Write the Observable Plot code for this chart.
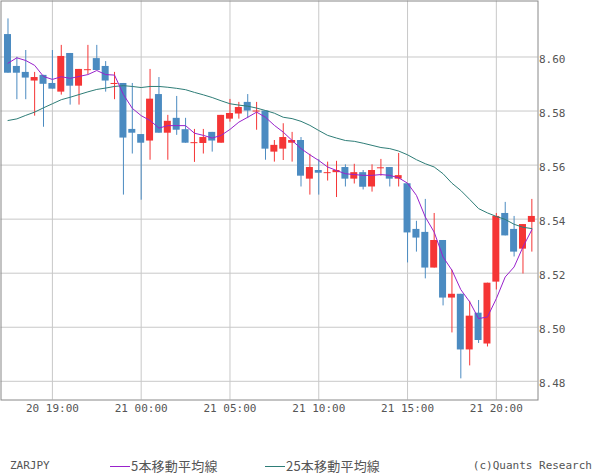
<!DOCTYPE html>
<html>
<head>
<meta charset="utf-8">
<script src="https://cdn.jsdelivr.net/npm/d3@7"></script>
<script src="https://cdn.jsdelivr.net/npm/@observablehq/plot@0.6"></script>
<style>
  body { margin: 0; background: #fff; }
  #legend { position: relative; width: 600px; height: 45px; color: #555; }
  #legend span { position: absolute; top: 29px; height: 14px; line-height: 14px; white-space: nowrap; }
  .mono { font-family: "DejaVu Sans Mono", monospace; font-size: 11px; }
  .jp { font-family: "Noto Sans CJK JP", sans-serif; font-size: 13px; letter-spacing: 0.2px; }
  .swatch { position: absolute; top: 36px; height: 1px; width: 20px; }
</style>
</head>
<body>
<div id="chart"></div>
<div id="legend">
  <span class="mono" style="left:10px">ZARJPY</span>
  <div class="swatch" style="left:110px;background:#9922cc"></div>
  <span class="jp" style="left:131px">5本移動平均線</span>
  <div class="swatch" style="left:265px;background:#2e7d77"></div>
  <span class="jp" style="left:286px">25本移動平均線</span>
  <span class="mono" style="right:8px">(c)Quants Research</span>
</div>
<script>
const times = [
  "20 16:30","20 17:00","20 17:30","20 18:00","20 18:30","20 19:00","20 19:30","20 20:00","20 20:30","20 21:00",
  "20 21:30","20 22:00","20 22:30","20 23:00","20 23:30","21 00:00","21 00:30","21 01:00","21 01:30","21 02:00",
  "21 02:30","21 03:00","21 03:30","21 04:00","21 04:30","21 05:00","21 05:30","21 06:00","21 06:30","21 07:00",
  "21 07:30","21 08:00","21 08:30","21 09:00","21 09:30","21 10:00","21 10:30","21 11:00","21 11:30","21 12:00",
  "21 12:30","21 13:00","21 13:30","21 14:00","21 14:30","21 15:00","21 15:30","21 16:00","21 16:30","21 17:00",
  "21 17:30","21 18:00","21 18:30","21 19:00","21 19:30","21 20:00","21 20:30","21 21:00","21 21:30","21 22:00"
];
const open = [
  8.6083,8.5965,8.5943,8.5911,8.5932,8.5902,8.5870,8.6013,8.5892,8.5953,
  8.5994,8.5965,8.5902,8.5902,8.5732,8.5713,8.5689,8.5861,8.5718,8.5773,
  8.5731,8.5683,8.5680,8.5721,8.5681,8.5770,8.5789,8.5832,8.5800,8.5800,
  8.5648,8.5659,8.5681,8.5691,8.5548,8.5580,8.5572,8.5572,8.5591,8.5548,
  8.5572,8.5519,8.5590,8.5591,8.5548,8.5531,8.5362,8.5351,8.5219,8.5321,
  8.5108,8.5122,8.4916,8.5052,8.4938,8.5167,8.5421,8.5362,8.5289,8.5388
];
const high = [
  8.6141,8.5999,8.6024,8.5943,8.5932,8.6024,8.6043,8.6013,8.5954,8.6043,
  8.6043,8.5983,8.5943,8.5902,8.5902,8.5713,8.5954,8.5924,8.5784,8.5854,
  8.5773,8.5732,8.5732,8.5721,8.5784,8.5843,8.5832,8.5861,8.5832,8.5800,
  8.5691,8.5753,8.5721,8.5702,8.5640,8.5620,8.5611,8.5614,8.5601,8.5603,
  8.5580,8.5601,8.5621,8.5591,8.5643,8.5531,8.5392,8.5473,8.5421,8.5321,
  8.5211,8.5122,8.5096,8.5099,8.5163,8.5421,8.5462,8.5410,8.5380,8.5473
];
const low = [
  8.5940,8.5842,8.5842,8.5781,8.5740,8.5881,8.5859,8.5822,8.5822,8.5935,
  8.5950,8.5870,8.5842,8.5489,8.5641,8.5470,8.5618,8.5718,8.5618,8.5710,
  8.5681,8.5610,8.5641,8.5648,8.5681,8.5759,8.5770,8.5772,8.5729,8.5618,
  8.5611,8.5617,8.5611,8.5519,8.5489,8.5489,8.5541,8.5480,8.5519,8.5530,
  8.5508,8.5500,8.5559,8.5519,8.5519,8.5238,8.5278,8.5179,8.5219,8.5079,
  8.4979,8.4809,8.4857,8.4940,8.4927,8.5138,8.5338,8.5260,8.5197,8.5278
];
const close = [
  8.5940,8.5940,8.5922,8.5924,8.5899,8.5881,8.6002,8.5892,8.5954,8.5953,
  8.5950,8.5911,8.5902,8.5700,8.5718,8.5681,8.5844,8.5718,8.5762,8.5729,
  8.5681,8.5683,8.5702,8.5689,8.5784,8.5791,8.5813,8.5800,8.5800,8.5659,
  8.5673,8.5702,8.5691,8.5559,8.5591,8.5570,8.5572,8.5580,8.5548,8.5572,
  8.5518,8.5580,8.5590,8.5548,8.5561,8.5349,8.5330,8.5219,8.5321,8.5108,
  8.5122,8.4916,8.5041,8.4951,8.5163,8.5410,8.5338,8.5278,8.5380,8.5410
];
const ma5 = [
  8.5977,8.5997,8.5987,8.5969,8.5928,8.5917,8.5927,8.5921,8.5928,8.5935,
  8.5950,8.5935,8.5933,8.5861,8.5810,8.5783,8.5765,8.5737,8.5746,8.5746,
  8.5746,8.5718,8.5710,8.5700,8.5710,8.5732,8.5759,8.5777,8.5796,8.5777,
  8.5747,8.5722,8.5691,8.5661,8.5638,8.5617,8.5593,8.5580,8.5568,8.5565,
  8.5562,8.5562,8.5565,8.5562,8.5553,8.5533,8.5488,8.5408,8.5352,8.5260,
  8.5211,8.5139,8.5094,8.5032,8.5038,8.5106,8.5186,8.5223,8.5297,8.5361
];
const ma25 = [
  8.5765,8.5771,8.5784,8.5796,8.5812,8.5827,8.5842,8.5851,8.5861,8.5871,
  8.5880,8.5885,8.5891,8.5894,8.5891,8.5887,8.5891,8.5891,8.5888,8.5884,
  8.5879,8.5869,8.5860,8.5850,8.5838,8.5827,8.5822,8.5818,8.5811,8.5802,
  8.5792,8.5777,8.5772,8.5762,8.5747,8.5728,8.5710,8.5700,8.5691,8.5688,
  8.5681,8.5673,8.5665,8.5661,8.5652,8.5638,8.5620,8.5605,8.5593,8.5568,
  8.5533,8.5506,8.5473,8.5439,8.5423,8.5410,8.5399,8.5381,8.5370,8.5365
];
const xTicks = ["20 19:00","21 00:00","21 05:00","21 10:00","21 15:00","21 20:00"];
const yTicks = [8.48, 8.50, 8.52, 8.54, 8.56, 8.58, 8.60];

const UP = "#f53535", DOWN = "#4b8bc1";
const data = times.map((t, i) => ({t, o: open[i], h: high[i], l: low[i], c: close[i], m5: ma5[i], m25: ma25[i]}));
const col = d => (d.c >= d.o ? UP : DOWN);

const chart = Plot.plot({
  width: 600,
  height: 430,
  marginLeft: 0.5,
  marginTop: 0.5,
  marginRight: 62.5,
  marginBottom: 30.5,
  style: {fontFamily: "'DejaVu Sans Mono', monospace", fontSize: "11px", color: "#555", background: "#fff"},
  x: {type: "band", domain: times, paddingInner: 0, paddingOuter: 0.24, align: 0.6},
  y: {domain: [8.47308, 8.62072]},
  color: {type: "identity"},
  marks: [
    Plot.gridY(yTicks, {stroke: "#c8c8c8", strokeOpacity: 1}),
    Plot.ruleX(xTicks, {x: d => d, stroke: "#c8c8c8", strokeOpacity: 1}),
    Plot.ruleX(data, {x: "t", y1: "l", y2: "h", stroke: col}),
    Plot.barY(data, {x: "t", y1: "o", y2: "c", fill: col, insetLeft: 0.94, insetRight: 0.94}),
    Plot.tickY(data.filter(d => d.o === d.c), {x: "t", y: "c", stroke: col, insetLeft: 0.94, insetRight: 0.94}),
    Plot.line(data, {x: "t", y: "m25", stroke: "#2e7d77", strokeWidth: 1}),
    Plot.line(data, {x: "t", y: "m5", stroke: "#9922cc", strokeWidth: 1}),
    Plot.frame({stroke: "#888"}),
    Plot.axisY(yTicks, {anchor: "right", tickSize: 0, tickPadding: 1, tickFormat: d => d.toFixed(2), dy: 2, label: null}),
    Plot.axisX(xTicks, {anchor: "bottom", tickSize: 0, tickPadding: 4, label: null})
  ]
});
document.getElementById("chart").appendChild(chart);
</script>
</body>
</html>
